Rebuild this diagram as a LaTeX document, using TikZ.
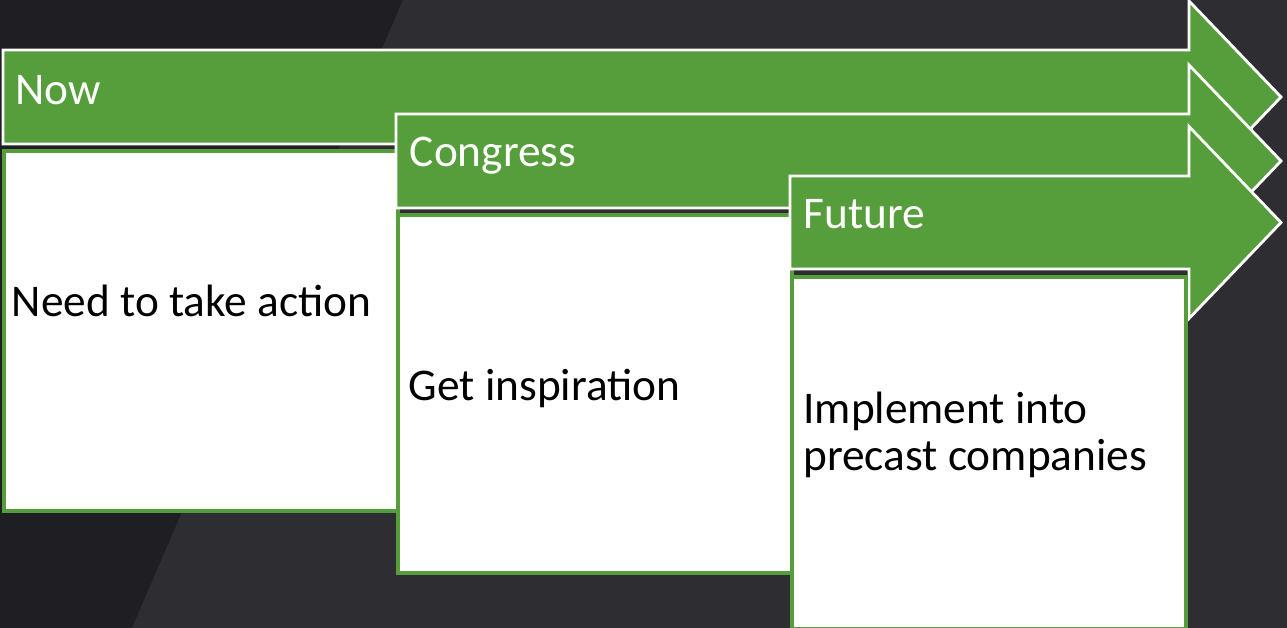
\documentclass[tikz,border=0pt]{standalone}
\usepackage{fontspec}
\setmainfont{Carlito}
\usetikzlibrary{positioning}
\definecolor{stagegreen}{HTML}{559E3B}
\definecolor{bgdark}{HTML}{1F1F23}
\definecolor{bglight}{HTML}{2D2D32}
\tikzset{%
  % Specifications for style of shapes and texts:
      stagearrow/.style = {fill=stagegreen, draw=white, line width=1.6pt},
        stagebox/.style = {rectangle, draw=stagegreen, fill=white,
                           line width=2.3pt, anchor=north west, inner sep=0pt},
       stagetext/.style = {inner sep=0pt, anchor=base west,
                           font=\fontsize{25.8}{26.7}\selectfont},
        headtext/.style = {stagetext, text=white},
        bodytext/.style = {stagetext, text=black, align=left},
}

\begin{document}
\begin{tikzpicture}[x=0.02cm, y=-0.02cm]
  % Background with the lighter diagonal band
  \useasboundingbox (0,0) rectangle (1287,628);
  \fill[bgdark]  (0,0) rectangle (1287,628);
  \fill[bglight] (403,0) -- (1287,0) -- (1287,628) -- (132,628) -- cycle;

  % Now
  \draw[stagearrow] (3,50) -- (1189,50) -- (1189,1) -- (1281,97)
                    -- (1189,193) -- (1189,144) -- (3,144) -- cycle;
  \node (nowlabel) [headtext] at (15,105) {Now};
  \node (nowbox)   [stagebox, minimum width=7.88cm, minimum height=7.21cm]
                   at (2,149) {};
  \node (nowtext)  [bodytext] at (11.5,316.7) {Need to take action};

  % Congress
  \draw[stagearrow] (396,114) -- (1189,114) -- (1189,65) -- (1281,161)
                    -- (1189,257) -- (1189,208) -- (396,208) -- cycle;
  \node (congresslabel) [headtext] at (409.5,166.7) {Congress};
  \node (congressbox)   [stagebox, minimum width=7.88cm, minimum height=7.16cm]
                        at (396,213) {};
  \node (congresstext)  [bodytext] at (408.5,400.7) {Get inspiration};

  % Future (base of a two-line node is its last line)
  \draw[stagearrow] (790,176) -- (1189,176) -- (1189,126.5) -- (1281,222.5)
                    -- (1189,318.5) -- (1189,269) -- (790,269) -- cycle;
  \node (futurelabel) [headtext] at (803.5,228.3) {Future};
  \node (futurebox)   [stagebox, minimum width=7.88cm, minimum height=7.05cm]
                      at (790,274.5) {};
  \node (futuretext)  [bodytext] at (803,470.7) {Implement into\\precast companies};
\end{tikzpicture}
\end{document}
